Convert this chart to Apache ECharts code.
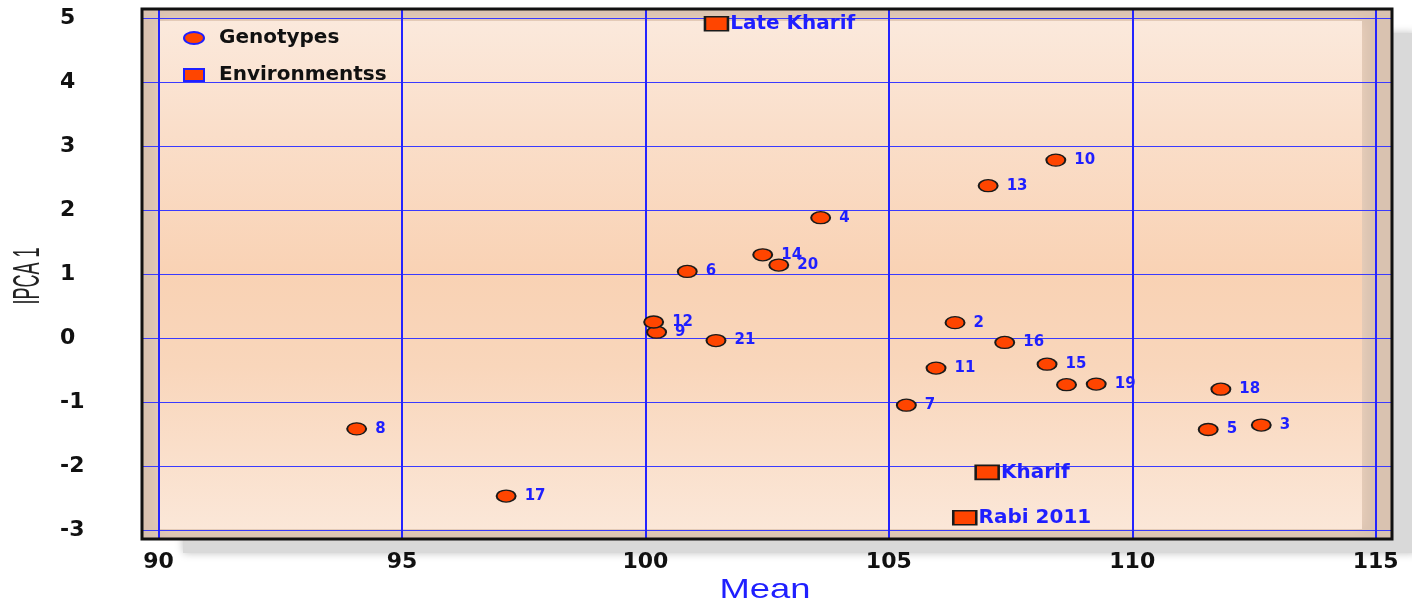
<!DOCTYPE html>
<html>
<head>
<meta charset="utf-8">
<script src="https://cdn.jsdelivr.net/npm/echarts@6/dist/echarts.min.js"></script>
<style>html,body{margin:0;padding:0;background:#fff;}#c{width:1412px;height:604px;}</style>
</head>
<body>
<div id="c"></div>
<script>
// ---- data ----
const genoIds  = ['1','2','3','4','5','6','7','8','9','10','11','12','13','14','15','16','17','18','19','20','21'];
const genoMean = [108.65,106.36,112.65,103.60,111.56,100.86,105.36,94.07,100.23,108.43,105.97,100.17,107.04,102.41,108.25,107.38,97.14,111.82,109.26,102.74,101.45];
const genoIPCA = [-0.73,0.24,-1.36,1.88,-1.43,1.04,-1.05,-1.42,0.09,2.78,-0.47,0.25,2.38,1.30,-0.41,-0.07,-2.47,-0.80,-0.72,1.14,-0.04];
const hiddenGenoLabels = ['1'];

const envNames = ['Late Kharif','Kharif','Rabi 2011'];
const envMean  = [101.46,107.02,106.56];
const envIPCA  = [4.91,-2.10,-2.81];

const xTicks = [90,95,100,105,110,115];
const yTicks = [-3,-2,-1,0,1,2,3,4,5];
const xRange = [89.661,115.335];
const yRange = [-3.141,5.141];

// ---- layout ----
const G = {left:142, top:9, width:1250, height:530};
const ELLIPSE = 'path://M0,6a10,6 0 1,0 20,0a10,6 0 1,0 -20,0z';
const FILL = '#ff4500';
const BLUE = '#1f1fff';

const genoData = genoIds.map((id,i)=>{
  const d = {name:id, value:[genoMean[i], genoIPCA[i]]};
  if (hiddenGenoLabels.includes(id)) d.label = {show:false};
  return d;
});
const envData = envNames.map((n,i)=>({name:n, value:[envMean[i], envIPCA[i]]}));

const chart = echarts.init(document.getElementById('c'), null, {renderer:'canvas'});
chart.setOption({
  animation:false,
  backgroundColor:'#ffffff',
  graphic:[
    {type:'rect', z:-20, shape:{x:G.left+41, y:G.top+24, width:1412-(G.left+41)+4, height:553-(G.top+24)},
      style:{fill:'#d9d9d9', shadowBlur:8, shadowColor:'rgba(0,0,0,0.25)'}},
    {type:'rect', z:-15, shape:{x:G.left, y:G.top, width:G.width, height:G.height},
      style:{fill:'#d9c2b0'}},
    {type:'rect', z:-14, shape:{x:G.left+18, y:G.top+12, width:G.width-48, height:G.height-22},
      style:{
        fill:new echarts.graphic.LinearGradient(0,0,0,1,[
          {offset:0, color:'#fbe9dc'},
          {offset:0.2, color:'#fadfcb'},
          {offset:0.5, color:'#f9d2b4'},
          {offset:0.68, color:'#f9d6bb'},
          {offset:1, color:'#fbe7d8'}
        ]),
        shadowBlur:14, shadowColor:'#f0d4bf'
      }},
    {type:'rect', z:50, silent:true, shape:{x:G.left, y:G.top, width:G.width, height:G.height},
      style:{fill:'none', stroke:'#111', lineWidth:3}},
    {type:'text', z:50, x:29, y:276, rotation:Math.PI/2, scaleY:2.1,
      style:{text:'IPCA 1', font:'18px "Liberation Sans", Arial, sans-serif', fill:'#222', align:'center', verticalAlign:'middle'}},
    {type:'text', z:50, x:765, y:590, scaleX:1.3,
      style:{text:'Mean', font:'28px "Liberation Sans", Arial, sans-serif', fill:BLUE, align:'center', verticalAlign:'middle'}}
  ],
  legend:{
    orient:'vertical', left:178, top:23, itemWidth:20, itemHeight:12, itemGap:17,
    textStyle:{fontFamily:'DejaVu Sans', fontWeight:'bold', fontSize:20, color:'#111', padding:[0,0,0,10]},
    data:[
      {name:'Genotypes', icon:ELLIPSE, itemStyle:{color:FILL, borderColor:BLUE, borderWidth:2}},
      {name:'Environmentss', icon:'rect', itemStyle:{color:FILL, borderColor:BLUE, borderWidth:2}}
    ]
  },
  grid:{left:G.left, top:G.top, width:G.width, height:G.height, show:false},
  xAxis:{
    type:'value', min:xRange[0], max:xRange[1], splitNumber:5,
    axisLine:{show:false}, axisTick:{show:false},
    splitLine:{show:true, lineStyle:{color:'#2424ff', width:2}},
    axisLabel:{
      showMinLabel:false, showMaxLabel:false, margin:12,
      fontFamily:'DejaVu Sans', fontWeight:'bold', fontSize:22, color:'#111',
      formatter:v=> xTicks.some(t=>Math.abs(t-v)<1e-6) ? String(Math.round(v)) : ''
    }
  },
  yAxis:{
    type:'value', min:yRange[0], max:yRange[1], splitNumber:8,
    axisLine:{show:false}, axisTick:{show:false},
    splitLine:{show:true, lineStyle:{color:'#3a3aff', width:1.2}},
    axisLabel:{
      showMinLabel:false, showMaxLabel:false, margin:82, align:'left',
      fontFamily:'DejaVu Sans', fontWeight:'bold', fontSize:22, color:'#111',
      formatter:v=> yTicks.some(t=>Math.abs(t-v)<1e-6) ? String(Math.round(v)) : ''
    }
  },
  series:[
    {
      name:'Genotypes', type:'scatter', z:5,
      symbol:ELLIPSE, symbolSize:[19,12],
      itemStyle:{color:FILL, borderColor:'#1a1a1a', borderWidth:1.6, opacity:1},
      label:{show:true, position:'right', distance:8, formatter:'{b}',
        fontFamily:'DejaVu Sans', fontWeight:'bold', fontSize:15, color:BLUE},
      emphasis:{disabled:true},
      data:genoData
    },
    {
      name:'Environmentss', type:'scatter', z:5,
      symbol:'rect', symbolSize:[23,14],
      itemStyle:{color:FILL, borderColor:'#1a1a1a', borderWidth:2, opacity:1},
      label:{show:true, position:'right', distance:1, formatter:'{b}',
        fontFamily:'DejaVu Sans', fontWeight:'bold', fontSize:20, color:BLUE},
      emphasis:{disabled:true},
      data:envData
    }
  ]
});
</script>
</body>
</html>
